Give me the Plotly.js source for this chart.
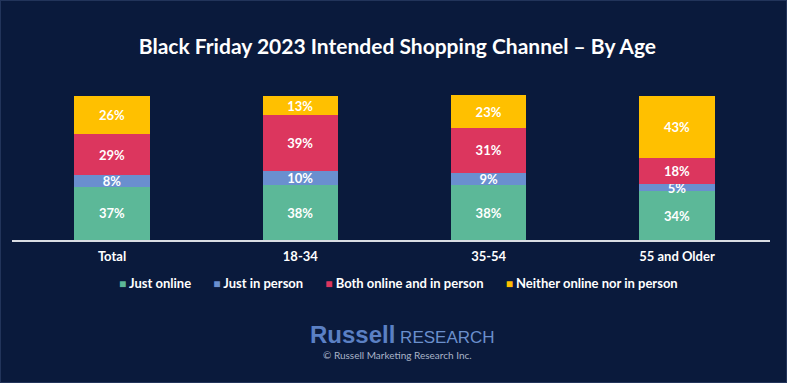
<!DOCTYPE html>
<html><head><meta charset="utf-8">
<script src="https://cdn.plot.ly/plotly-3.0.1.min.js"></script>
<style>html,body{margin:0;padding:0;background:#0a1a3c;}#chart{width:787px;height:383px;}</style>
</head><body><div id="chart"></div>
<script>
const categories = ["Total", "18-34", "35-54", "55 and Older"];
const justOnline = [37, 38, 38, 34];
const justInPerson = [8, 10, 9, 5];
const bothOnlineInPerson = [29, 39, 31, 18];
const neither = [26, 13, 23, 43];
const seriesNames = ["Just online", "Just in person", "Both online and in person", "Neither online nor in person"];
const seriesColors = ["#5cb898", "#6a8fcf", "#dc365e", "#ffc000"];
const seriesValues = [justOnline, justInPerson, bothOnlineInPerson, neither];

const FONT = "Lato, 'Open Sans', sans-serif";
const traces = seriesValues.map((vals, i) => ({
  type: "bar", x: categories, y: vals, name: seriesNames[i],
  marker: {color: seriesColors[i], line: {width: 0}},
  width: 0.40,
  texttemplate: "%{y}%", textposition: "inside", insidetextanchor: "middle",
  constraintext: "none", cliponaxis: false,
  textfont: {color: "#ffffff", size: 13, family: FONT, weight: "bold"},
  hoverinfo: "skip", showlegend: false
}));

// legend line built from the series names and colours
const gap = "&nbsp;".repeat(7);
const legendText = seriesNames.map((n, i) =>
  "<span style='color:" + seriesColors[i] + ";font-size:12px'>■</span> " + n).join(gap);

const layout = {
  width: 787, height: 383,
  paper_bgcolor: "#0a1a3c", plot_bgcolor: "#0a1a3c",
  barmode: "stack", bargap: 0.6,
  margin: {l: 12, r: 17, t: 95, b: 143},
  font: {family: FONT, color: "#ffffff"},
  title: {text: "<b>Black Friday 2023 Intended Shopping Channel – By Age</b>",
          x: 0.505, xanchor: "center", y: 0.877, yanchor: "middle",
          font: {size: 21, color: "#ffffff", family: FONT}},
  xaxis: {range: [-0.531, 3.494], showline: true, linecolor: "#d9dde3", linewidth: 1.5,
          ticks: "outside", ticklen: 4, tickcolor: "rgba(0,0,0,0)",
          tickfont: {size: 13, color: "#ffffff", family: FONT, weight: "bold"},
          showgrid: false, zeroline: false, fixedrange: true},
  yaxis: {range: [0, 101], visible: false, showgrid: false, zeroline: false, fixedrange: true},
  showlegend: false,
  shapes: [
    {type: "rect", xref: "paper", yref: "paper", x0: -12/758, x1: 1 + 17/758, y0: -143/145, y1: 1 + 95/145,
     line: {color: "#22345a", width: 2}, fillcolor: "rgba(0,0,0,0)", layer: "below"}
  ],
  annotations: [
    {xref: "paper", yref: "paper", x: 0.51, y: (240 - 283) / 145, xanchor: "center", yanchor: "middle",
     showarrow: false, text: "<b>" + legendText + "</b>",
     font: {family: FONT, color: "#ffffff", size: 13}},
    {xref: "paper", yref: "paper", x: (402 - 12) / 758, y: (240 - 334) / 145, xanchor: "center", yanchor: "middle",
     showarrow: false,
     text: "<b><span style='font-size:24px'>Russell</span></b><span style='font-size:17px;color:#6b8fcc'> RESEARCH</span>",
     font: {family: "'Liberation Sans', Arial, sans-serif", color: "#5b80c4", size: 24}},
    {xref: "paper", yref: "paper", x: (397 - 12) / 758, y: (240 - 355) / 145, xanchor: "center", yanchor: "middle",
     showarrow: false, text: "© Russell Marketing Research Inc.",
     font: {family: FONT, color: "#a9b4c8", size: 10}}
  ]
};
Plotly.newPlot("chart", traces, layout, {displayModeBar: false, staticPlot: true});
</script></body></html>
